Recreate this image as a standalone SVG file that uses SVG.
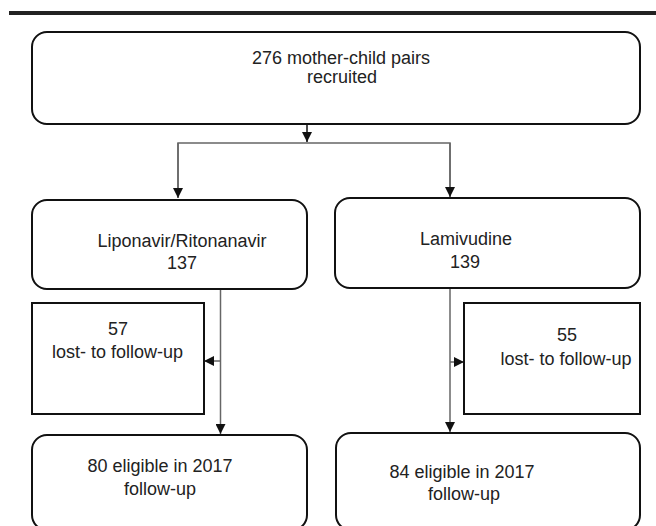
<svg xmlns="http://www.w3.org/2000/svg" width="656" height="526" viewBox="0 0 656 526">
<style>
.box{fill:#fff;stroke:#111;stroke-width:2}
.t{font-family:"Liberation Sans",Arial,sans-serif;font-size:18px;fill:#222;text-anchor:middle}
.c{fill:none;stroke:#666;stroke-width:1.5}
.ck{fill:none;stroke:#111;stroke-width:1.5}
</style>
<defs>
<marker id="ah" markerUnits="userSpaceOnUse" markerWidth="10" markerHeight="10" refX="10" refY="5" orient="auto">
<path d="M0,0 L10,5 L0,10 z" fill="#111"/>
</marker>
</defs>
<rect x="9" y="11" width="647" height="4" fill="#222"/>
<g id="connectors">
<path class="ck" d="M307,124 V142" marker-end="url(#ah)"/>
<path class="c" d="M178,198 V143 H450 V197"/>
<path class="c" d="M178,143 V198" marker-end="url(#ah)"/>
<path class="c" d="M450,143 V197" marker-end="url(#ah)"/>
<path class="c" d="M220.5,289 V434" marker-end="url(#ah)"/>
<path class="c" d="M220.5,361 H204" marker-end="url(#ah)"/>
<path class="c" d="M450,288 V432" marker-end="url(#ah)"/>
<path class="c" d="M450,362 H464" marker-end="url(#ah)"/>
</g>
<g id="recruited">
<rect class="box" x="32" y="32" width="608" height="92" rx="15"/>
<text class="t" x="341" y="64">276 mother-child pairs</text>
<text class="t" x="342" y="83">recruited</text>
</g>
<g id="lpv">
<rect class="box" x="32" y="200" width="275" height="89" rx="15"/>
<text class="t" x="182" y="247">Liponavir/Ritonanavir</text>
<text class="t" x="182" y="269">137</text>
</g>
<g id="lam">
<rect class="box" x="335" y="198" width="305" height="90" rx="15"/>
<text class="t" x="466" y="245">Lamivudine</text>
<text class="t" x="465" y="268">139</text>
</g>
<g id="lost-left">
<rect class="box" x="32" y="303" width="172" height="111"/>
<text class="t" x="118" y="335">57</text>
<text class="t" x="117.5" y="358">lost- to follow-up</text>
</g>
<g id="lost-right">
<rect class="box" x="464" y="303" width="176" height="111"/>
<text class="t" x="567" y="341">55</text>
<text class="t" x="566" y="365">lost- to follow-up</text>
</g>
<g id="elig-left">
<rect class="box" x="32" y="435" width="275" height="95" rx="15"/>
<text class="t" x="160" y="472">80 eligible in 2017</text>
<text class="t" x="160" y="495">follow-up</text>
</g>
<g id="elig-right">
<rect class="box" x="336" y="433" width="304" height="97" rx="15"/>
<text class="t" x="462" y="478">84 eligible in 2017</text>
<text class="t" x="464" y="500">follow-up</text>
</g>
</svg>
